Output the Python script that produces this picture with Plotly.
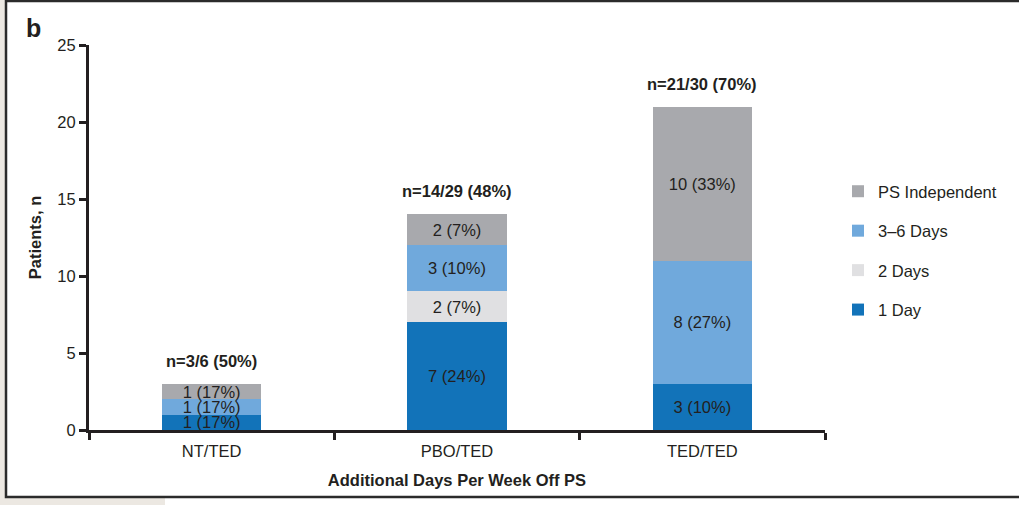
import plotly.graph_objects as go

# dados
grupos = ["NT/TED", "PBO/TED", "TED/TED"]
denominadores = [6, 29, 30]
series = ["1 Day", "2 Days", "3–6 Days", "PS Independent"]
um_dia = [1, 7, 3]
dois_dias = [0, 2, 0]
tres_seis_dias = [1, 3, 8]
ps_independente = [1, 2, 10]

CORES = {
    "1 Day": "#1273B9",
    "2 Days": "#E0E0E2",
    "3–6 Days": "#70A9DC",
    "PS Independent": "#A8A9AD",
}
COR_TEXTO = "#231F20"
FONTE = "Liberation Sans, Arial, sans-serif"

W, H = 1019, 505
L, R, T, B = 89, 194, 45, 75
PW, PH = W - L - R, H - T - B


def px_x(p):
    return (p - L) / PW


def px_y(p):
    return (H - B - p) / PH


valores = [um_dia, dois_dias, tres_seis_dias, ps_independente]

fig = go.Figure()
for i, (nome, vals) in enumerate(zip(series, valores)):
    rotulos = [
        f"{v} ({round(100 * v / d)}%)" if v else ""
        for v, d in zip(vals, denominadores)
    ]
    fig.add_trace(
        go.Bar(
            x=grupos,
            y=vals,
            name=nome,
            legendgroup=nome,
            legendrank=len(series) - i,
            marker=dict(color=CORES[nome], line=dict(width=0)),
            text=rotulos,
            textposition="inside",
            insidetextanchor="middle",
            constraintext="none",
            textfont=dict(family=FONTE, size=16.5, color=COR_TEXTO),
            hoverinfo="skip",
        )
    )

totais = [sum(v) for v in zip(*valores)]
for g, tot, d in zip(grupos, totais, denominadores):
    fig.add_annotation(
        x=g, y=tot, xref="x", yref="y",
        text=f"<b>n={tot}/{d} ({round(100 * tot / d)}%)</b>",
        showarrow=False, yanchor="bottom", yshift=12,
        font=dict(family=FONTE, size=16.5, color=COR_TEXTO),
    )

fig.add_annotation(
    x=px_x(24), y=px_y(28), xref="paper", yref="paper",
    text="<b>b</b>", showarrow=False, xanchor="left", yanchor="middle",
    font=dict(family=FONTE, size=25, color=COR_TEXTO),
)

# fundo da página e moldura
bege = "#ECE8E2"
fig.add_shape(type="rect", xref="paper", yref="paper",
              x0=px_x(0), x1=px_x(5), y0=px_y(0), y1=px_y(H),
              fillcolor=bege, line=dict(width=0), layer="below")
fig.add_shape(type="rect", xref="paper", yref="paper",
              x0=px_x(0), x1=px_x(165), y0=px_y(498), y1=px_y(H),
              fillcolor=bege, line=dict(width=0), layer="below")
fig.add_shape(type="rect", xref="paper", yref="paper",
              x0=px_x(6), x1=px_x(W + 10), y0=px_y(1), y1=px_y(497),
              line=dict(color="#2B2B2B", width=2.5), fillcolor="rgba(0,0,0,0)")

fig.update_layout(
    width=W, height=H,
    margin=dict(l=L, r=R, t=T, b=B),
    paper_bgcolor="white",
    plot_bgcolor="white",
    barmode="stack",
    bargap=0.595,
    font=dict(family=FONTE, size=16.5, color=COR_TEXTO),
    showlegend=True,
    legend=dict(
        x=px_x(838), y=px_y(174), xanchor="left", yanchor="top",
        traceorder="grouped", tracegroupgap=15,
        font=dict(family=FONTE, size=16.5, color=COR_TEXTO),
        bgcolor="rgba(0,0,0,0)",
    ),
    xaxis=dict(
        showline=True, linecolor=COR_TEXTO, linewidth=3,
        ticks="outside", tickson="boundaries", ticklen=7, tickwidth=3,
        tickcolor=COR_TEXTO, showgrid=False, ticklabelstandoff=4,
        title=dict(text="<b>Additional Days Per Week Off PS</b>", standoff=16,
                   font=dict(family=FONTE, size=16.5, color=COR_TEXTO)),
    ),
    yaxis=dict(
        range=[0, 25], dtick=5, showline=True, linecolor=COR_TEXTO, linewidth=3,
        ticks="outside", ticklen=7, tickwidth=3, tickcolor=COR_TEXTO,
        showgrid=False, zeroline=False,
        title=dict(text="<b>Patients, n</b>", standoff=12,
                   font=dict(family=FONTE, size=16.5, color=COR_TEXTO)),
    ),
)

fig.write_html(
    "out.html",
    config={"displayModeBar": False},
    post_script="document.body.style.margin='0';",
)
